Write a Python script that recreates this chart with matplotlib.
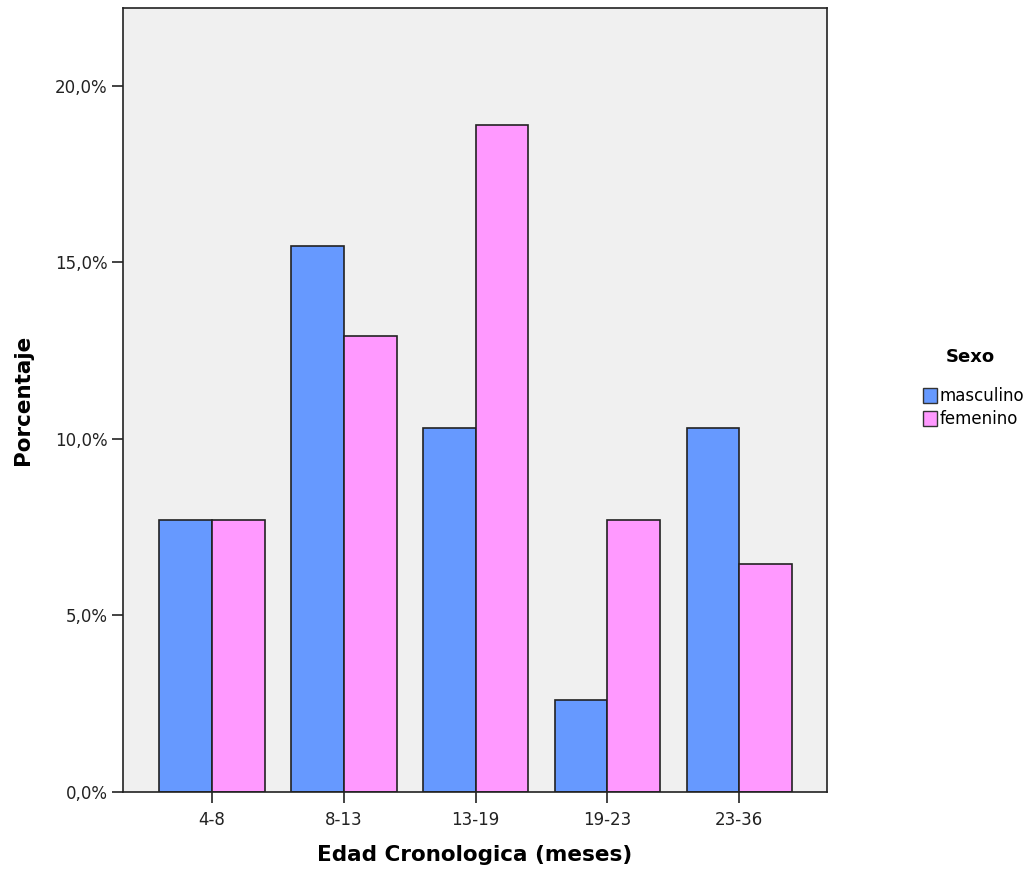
import matplotlib.pyplot as plt
import numpy as np
from matplotlib.patches import Patch
from matplotlib.ticker import FuncFormatter

plt.rcParams['font.family'] = ['DejaVu Sans']

categorias = ['4-8', '8-13', '13-19', '19-23', '23-36']
masculino = [7.7, 15.45, 10.3, 2.6, 10.3]
femenino = [7.7, 12.9, 18.9, 7.7, 6.45]

azul = '#6699ff'
rosa = '#ff99ff'

fig = plt.figure(figsize=(10.29, 8.76), dpi=100)
ax = fig.add_axes([0.1195, 0.0959, 0.6842, 0.895])
ax.set_facecolor('#f0f0f0')

x = np.arange(len(categorias))
w = 0.4
ax.bar(x - w / 2, masculino, w, color=azul, edgecolor='#222222', linewidth=1.2)
ax.bar(x + w / 2, femenino, w, color=rosa, edgecolor='#222222', linewidth=1.2)

ax.set_xlim(-0.675, 4.665)
ax.set_ylim(0, 22.2)
ax.set_xticks(x)
ax.set_xticklabels(categorias)
ax.set_yticks([0, 5, 10, 15, 20])
ax.yaxis.set_major_formatter(FuncFormatter(lambda v, p: ('%.1f%%' % v).replace('.', ',')))
ax.tick_params(axis='both', direction='out', length=8, width=1.2, labelsize=12,
               colors='#222222', pad=3)
ax.tick_params(axis='x', pad=6)
for s in ax.spines.values():
    s.set_linewidth(1.2)
    s.set_color('#222222')

ax.set_xlabel('Edad Cronologica (meses)', fontsize=15.5, fontweight='bold')
ax.set_ylabel('Porcentaje', fontsize=15.5, fontweight='bold')
ax.xaxis.set_label_coords(0.5, -0.068)
ax.yaxis.set_label_coords(-0.128, 0.5)

fig.text(0.943, 0.593, 'Sexo', fontsize=13, fontweight='bold', ha='center', va='center')
handles = [Patch(facecolor=azul, edgecolor='#333333', label='masculino'),
           Patch(facecolor=rosa, edgecolor='#333333', label='femenino')]
fig.legend(handles=handles, loc='upper left', bbox_to_anchor=(0.889, 0.568), frameon=False,
           fontsize=12, handlelength=0.85, handleheight=1.0, handletextpad=0.15,
           labelspacing=0.3, borderpad=0)

fig.savefig('out.png', dpi=100)
